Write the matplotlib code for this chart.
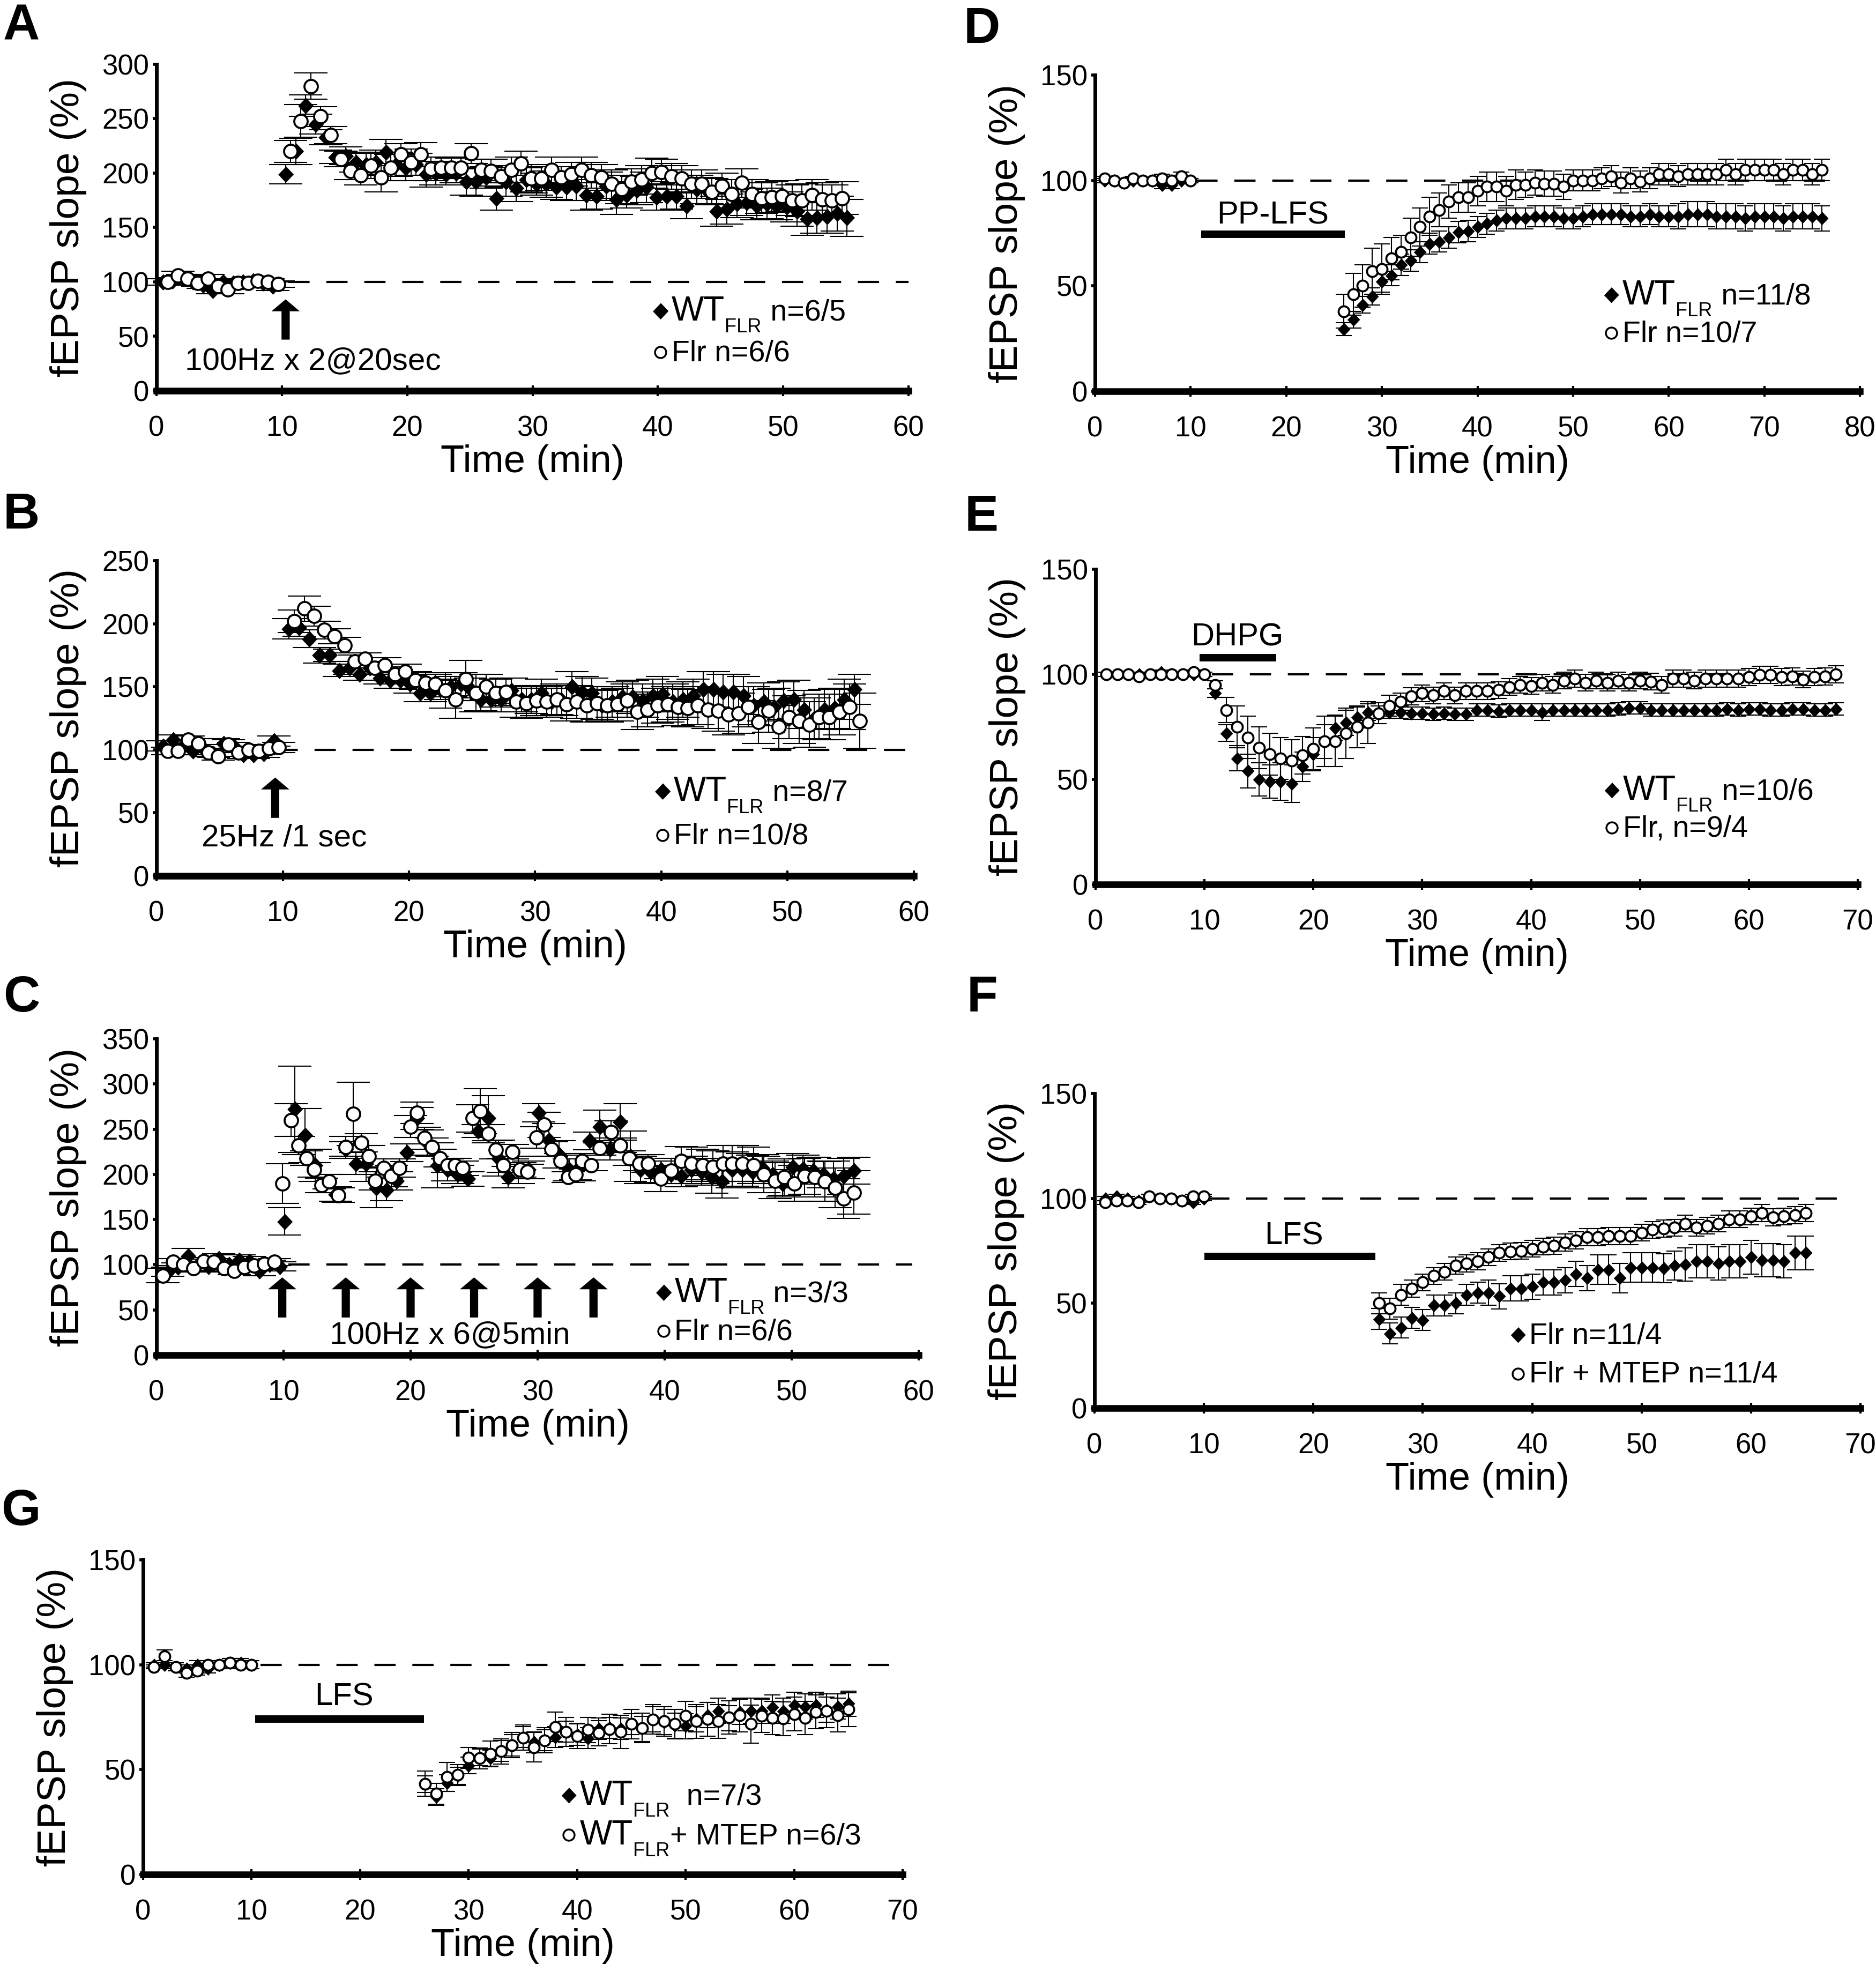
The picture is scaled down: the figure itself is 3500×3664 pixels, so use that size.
import matplotlib
matplotlib.use('Agg')
import matplotlib.pyplot as plt

plt.rcParams['font.family'] = ['Liberation Sans', 'DejaVu Sans']

# ------------------------------------------------------------------ DATA
# Panel A (LTP, 100Hz x 2)
A_wt_t = [0.5, 1.3, 2.1, 2.9, 3.7, 4.5, 5.3, 6.1, 6.9, 7.7, 8.5, 9.3,
          10.3, 11.1, 11.9, 12.7, 13.5, 14.3, 15.1, 15.9, 16.7, 17.5, 18.3, 19.1, 19.9, 20.7, 21.5, 22.3,
          23.1, 23.9, 24.7, 25.5, 26.3, 27.1, 27.9, 28.7, 29.5, 30.3, 31.1, 31.9, 32.7, 33.5, 34.3, 35.1,
          35.9, 36.7, 37.5, 38.3, 39.1, 39.9, 40.7, 41.5, 42.3, 43.1, 43.9, 44.7, 45.5, 46.3, 47.1, 47.9,
          48.7, 49.5, 50.3, 51.1, 51.9, 52.7, 53.5, 54.3, 55.1]
A_wt_y = [100, 101, 103, 100, 97, 92, 100, 99, 100, 101, 99, 96,
          199, 220, 262, 245, 233, 215, 216, 210, 208, 210, 219, 208, 205, 208, 199, 200, 199, 200, 192, 192,
          196, 177, 192, 186, 194, 190, 190, 187, 187, 188, 180, 179, 188, 176, 180, 184, 187, 178, 179, 179,
          170, 185, 184, 165, 167, 172, 173, 170, 172, 170, 169, 165, 158, 159, 160, 163, 159]
A_wt_e = [3, 3, 4, 3, 3, 3, 3, 2, 2, 2, 3, 4,
          9, 12, 10, 9, 7, 6, 8, 9, 10, 11, 12, 11, 12, 10, 12, 11, 10, 9, 12, 13, 10, 11, 13, 12, 11, 10,
          12, 11, 12, 13, 14, 12, 13, 14, 12, 13, 14, 12, 13, 12, 12, 13, 12, 14, 14, 13, 12, 13, 14, 13,
          14, 14, 15, 14, 15, 16, 17]
A_flr_t = [0.9, 1.7, 2.5, 3.3, 4.1, 4.9, 5.7, 6.5, 7.3, 8.1, 8.9, 9.7,
           10.7, 11.5, 12.3, 13.1, 13.9, 14.7, 15.5, 16.3, 17.1, 17.9, 18.7, 19.5, 20.3, 21.1, 21.9, 22.7,
           23.5, 24.3, 25.1, 25.9, 26.7, 27.5, 28.3, 29.1, 29.9, 30.7, 31.5, 32.3, 33.1, 33.9, 34.7, 35.5,
           36.3, 37.1, 37.9, 38.7, 39.5, 40.3, 41.1, 41.9, 42.7, 43.5, 44.3, 45.1, 45.9, 46.7, 47.5, 48.3,
           49.1, 49.9, 50.7, 51.5, 52.3, 53.1, 53.9, 54.7]
A_flr_y = [100, 106, 103, 99, 103, 96, 93, 99, 99, 101, 100, 98,
           220, 248, 280, 252, 235, 213, 202, 198, 207, 196, 205, 217, 210, 217, 204, 205, 205, 205, 218,
           203, 202, 197, 203, 209, 195, 195, 203, 196, 199, 203, 198, 196, 190, 185, 192, 194, 200, 201,
           197, 195, 190, 190, 183, 188, 181, 191, 181, 177, 178, 179, 175, 175, 180, 176, 175, 177]
A_flr_e = [3, 4, 3, 3, 4, 3, 4, 3, 2, 2, 3, 3,
           10, 15, 12, 9, 8, 7, 8, 9, 12, 13, 12, 10, 12, 11, 11, 10, 9, 10, 9, 10, 11, 10, 12, 11, 13, 11,
           12, 10, 11, 12, 12, 12, 13, 13, 12, 13, 14, 12, 12, 12, 13, 13, 12, 12, 13, 13, 13, 14, 14, 14,
           14, 15, 14, 15, 14, 15]

# Panel B (25Hz / 1 sec)
B_wt_t = [0.5, 1.3, 2.1, 2.9, 3.7, 4.5, 5.3, 6.1, 6.9, 7.7, 8.5, 9.3,
          10.5, 11.3, 12.1, 12.9, 13.7, 14.5, 15.3, 16.1, 16.9, 17.7, 18.5, 19.3, 20.1, 20.9, 21.7, 22.5,
          23.3, 24.1, 24.9, 25.7, 26.5, 27.3, 28.1, 28.9, 29.7, 30.5, 31.3, 32.1, 32.9, 33.7, 34.5, 35.3,
          36.1, 36.9, 37.7, 38.5, 39.3, 40.1, 40.9, 41.7, 42.5, 43.3, 44.1, 44.9, 45.7, 46.5, 47.3, 48.1,
          48.9, 49.7, 50.5, 51.3, 52.1, 52.9, 53.7, 54.5, 55.3]
B_wt_y = [103, 108, 103, 99, 101, 97, 105, 103, 96, 96, 97, 107,
          196, 197, 188, 175, 175, 163, 165, 160, 165, 157, 155, 155, 152, 145, 145, 148, 150, 152, 148,
          140, 140, 140, 147, 140, 140, 145, 138, 139, 150, 146, 145, 135, 138, 142, 142, 139, 143, 144,
          138, 140, 143, 148, 148, 146, 146, 143, 135, 138, 134, 139, 140, 132, 125, 132, 133, 140, 148]
B_wt_e = [4, 4, 4, 3, 3, 3, 4, 3, 3, 3, 3, 4,
          8, 7, 7, 6, 5, 5, 5, 5, 5, 5, 6, 6, 7, 7, 7, 8, 8, 9, 9, 9, 10, 10, 10, 10, 11, 11, 11, 12, 12,
          12, 12, 12, 12, 12, 13, 13, 13, 14, 14, 14, 13, 14, 14, 14, 14, 15, 15, 15, 15, 15, 15, 15, 16,
          16, 16, 16, 12]
B_flr_t = [0.9, 1.7, 2.5, 3.3, 4.1, 4.9, 5.7, 6.5, 7.3, 8.1, 8.9, 9.7,
           10.9, 11.7, 12.5, 13.3, 14.1, 14.9, 15.7, 16.5, 17.3, 18.1, 18.9, 19.7, 20.5, 21.3, 22.1, 22.9,
           23.7, 24.5, 25.3, 26.1, 26.9, 27.7, 28.5, 29.3, 30.1, 30.9, 31.7, 32.5, 33.3, 34.1, 34.9, 35.7,
           36.5, 37.3, 38.1, 38.9, 39.7, 40.5, 41.3, 42.1, 42.9, 43.7, 44.5, 45.3, 46.1, 46.9, 47.7, 48.5,
           49.3, 50.1, 50.9, 51.7, 52.5, 53.3, 54.1, 54.9, 55.7]
B_flr_y = [99, 99, 108, 105, 98, 95, 104, 98, 100, 99, 101, 102,
           202, 212, 206, 195, 190, 183, 170, 172, 165, 167, 160, 162, 155, 153, 152, 147, 140, 156, 145,
           150, 145, 146, 138, 137, 139, 138, 140, 136, 138, 135, 137, 135, 136, 139, 130, 132, 135, 136,
           134, 133, 135, 132, 131, 128, 129, 134, 122, 131, 118, 126, 123, 120, 126, 126, 130, 134, 123]
B_flr_e = [3, 3, 3, 4, 3, 3, 4, 3, 3, 3, 3, 4,
           9, 10, 8, 7, 6, 6, 5, 5, 5, 6, 6, 6, 7, 8, 8, 14, 15, 15, 15, 10, 11, 11, 12, 12, 12, 12, 12,
           13, 13, 13, 13, 13, 13, 13, 14, 14, 14, 14, 15, 15, 15, 15, 16, 16, 16, 16, 17, 17, 17, 17, 18,
           18, 18, 18, 18, 18, 22]

# Panel C (100Hz x 6 @ 5 min)
C_wt_t = [0.9, 1.7, 2.5, 3.3, 4.1, 4.9, 5.7, 6.5, 7.3, 8.1, 8.9, 9.7,
          10.1, 10.9, 11.7, 12.5, 13.3, 14.1, 14.9, 15.7, 16.5, 17.3, 18.1, 18.9, 19.7, 20.5, 21.3, 22.1,
          22.9, 23.7, 24.5, 25.3, 26.1, 26.9, 27.7, 28.5, 29.3, 30.1, 30.9, 31.7, 32.5, 33.3, 34.1, 34.9,
          35.7, 36.5, 37.3, 38.1, 38.9, 39.7, 40.5, 41.3, 42.1, 42.9, 43.7, 44.5, 45.3, 46.1, 46.9, 47.7,
          48.5, 49.3, 50.1, 50.9, 51.7, 52.5, 53.3, 54.1, 54.9]
C_wt_y = [92, 97, 110, 100, 98, 107, 100, 105, 104, 93, 100, 98,
          148, 272, 243, 210, 190, 178, 228, 212, 212, 185, 183, 193, 224, 262, 235, 210, 205, 200, 195,
          248, 262, 218, 197, 205, 205, 268, 238, 222, 205, 208, 237, 253, 228, 258, 220, 205, 203, 205,
          200, 198, 205, 203, 197, 192, 205, 205, 203, 207, 200, 190, 208, 206, 204, 200, 195, 198, 204]
C_wt_e = [5, 5, 8, 6, 5, 5, 5, 6, 5, 5, 5, 5,
          15, 48, 30, 18, 10, 8, 8, 12, 20, 22, 12, 10, 10, 12, 14, 25, 12, 10, 8, 7, 25, 20, 12, 15, 10,
          10, 18, 15, 12, 15, 10, 18, 12, 20, 28, 15, 12, 10, 10, 12, 15, 15, 18, 18, 20, 18, 18, 15, 15,
          15, 15, 15, 15, 15, 20, 20, 15]
C_flr_t = [0.5, 1.3, 2.1, 2.9, 3.7, 4.5, 5.3, 6.1, 6.9, 7.7, 8.5, 9.3,
           9.9, 10.6, 11.2, 11.8, 12.4, 13.0, 13.6, 14.3, 14.9, 15.5, 16.1, 16.7, 17.2, 17.9, 18.5, 19.1,
           20.0, 20.5, 21.1, 21.7, 22.3, 22.9, 23.5, 24.1, 24.9, 25.5, 26.1, 26.7, 27.3, 28.0, 28.6, 29.2,
           29.9, 30.5, 31.1, 31.8, 32.4, 33.0, 33.5, 34.2, 34.9, 35.8, 36.5, 37.2, 38.0, 38.7, 39.7, 40.5,
           41.3, 42.1, 43.0, 43.8, 44.6, 45.3, 46.1, 47.0, 47.8, 48.7, 49.4, 50.2, 51.0, 51.8, 52.6, 53.4,
           54.1, 54.9]
C_flr_y = [88, 103, 100, 96, 104, 103, 96, 93, 97, 99, 101, 103,
           190, 260, 232, 218, 205, 188, 192, 177, 230, 267, 235, 220, 193, 207, 198, 207, 253, 268, 240,
           230, 218, 210, 210, 207, 262, 270, 245, 227, 210, 225, 205, 203, 241, 255, 228, 215, 197, 200,
           215, 210, 229, 247, 232, 218, 212, 212, 195, 204, 215, 212, 210, 208, 212, 212, 212, 210, 200,
           193, 197, 190, 198, 197, 192, 185, 173, 180]
C_flr_e = [8, 4, 4, 4, 4, 4, 4, 4, 4, 4, 3, 4,
           22, 18, 10, 8, 8, 8, 8, 8, 12, 35, 10, 12, 10, 10, 12, 10, 12, 12, 12, 10, 10, 8, 8, 8, 15, 25,
           10, 10, 8, 8, 8, 8, 12, 14, 8, 8, 6, 6, 6, 6, 8, 12, 8, 8, 8, 10, 14, 14, 16, 18, 18, 18, 20,
           20, 20, 20, 20, 20, 20, 20, 20, 22, 22, 22, 22, 24]

# Panel D (PP-LFS)
D_t = [1, 2, 3, 4, 5, 6, 7, 8, 9, 10,
       26, 27, 28, 29, 30, 31, 32, 33, 34, 35, 36, 37, 38, 39, 40, 41, 42, 43, 44, 45, 46, 47, 48, 49, 50,
       51, 52, 53, 54, 55, 56, 57, 58, 59, 60, 61, 62, 63, 64, 65, 66, 67, 68, 69, 70, 71, 72, 73, 74, 75,
       76]
D_wt_y = [100, 100, 99, 100, 100, 100, 98, 98, 100, 100,
          29.5, 34, 41, 45, 52, 55, 60, 62, 66, 70, 71, 73, 75.5, 76, 78, 79.5, 81, 82, 82, 82, 83, 83, 83,
          82, 82, 83, 84, 84, 84, 84, 83, 83, 84, 83, 83, 83, 84, 84, 84, 83, 83, 83, 82, 83, 83, 83, 82,
          83, 83, 83, 82]
D_wt_e = [1, 1, 1, 1, 1, 1, 2, 2, 1, 1,
          3, 4, 4, 4, 5, 5, 5, 5, 5, 5, 5, 5, 5, 5, 5, 5, 5, 5, 5, 5, 5, 5, 5, 5, 5, 5, 5, 5, 5, 5, 5, 5,
          5, 5, 5, 6, 6, 6, 6, 6, 6, 6, 6, 6, 6, 6, 6, 6, 6, 6, 6]
D_flr_y = [101, 100, 99, 101, 100, 100, 101, 100, 102, 100,
           38, 46, 50, 57, 58, 63, 66, 73, 78, 83, 86, 90, 92, 92, 95, 97, 97, 95, 98, 98, 99, 98.5, 98.5,
           97, 100, 100, 100, 101, 102, 99, 101, 99.5, 101, 103, 103, 102, 103, 103, 103, 103, 105, 103,
           105, 105, 105, 105, 103, 105, 105, 103, 105]
D_flr_e = [1, 1, 1, 1, 1, 1, 2, 1, 2, 1,
           8, 10, 10, 11, 12, 10, 8, 9, 9, 9, 8, 8, 7, 7, 7, 7, 7, 7, 7, 6, 6, 6, 6, 6, 5, 5, 5, 5, 5, 5,
           5, 5, 5, 5, 5, 5, 5, 5, 5, 5, 5, 5, 5, 5, 5, 5, 5, 5, 5, 5, 5]

# Panel E (DHPG)
E_t = [1, 2, 3, 4, 5, 6, 7, 8, 9, 10,
       11, 12, 13, 14, 15, 16, 17, 18, 19, 20, 21, 22, 23, 24, 25, 26, 27, 28, 29, 30, 31, 32, 33, 34, 35,
       36, 37, 38, 39, 40, 41, 42, 43, 44, 45, 46, 47, 48, 49, 50, 51, 52, 53, 54, 55, 56, 57, 58, 59, 60,
       61, 62, 63, 64, 65, 66, 67, 68]
E_wt_y = [100, 100, 100, 100, 100, 101, 100, 100, 100, 100,
          91, 72, 60, 54, 50, 49, 49, 48, 56, 62, 68, 74.5, 77, 79.5, 82, 82, 82, 82, 81.5, 81.5, 81, 81.5,
          81, 81, 83, 83, 82.5, 83, 83, 83, 82, 83, 83, 83, 83, 83, 83, 83.5, 84, 84, 83, 83, 83, 83, 83,
          83, 83, 83.5, 83, 83.5, 83.5, 83, 83, 83.5, 83.5, 83, 83, 83.5]
E_wt_e = [1, 1, 1, 1, 1, 1, 1, 1, 1, 1,
          2, 4, 6, 8, 8, 8, 9, 9, 7, 8, 8, 6, 6, 5, 4, 3, 3, 3, 3, 3, 3, 3, 3, 3, 3, 3, 3, 3, 3, 3, 4, 3,
          3, 3, 3, 3, 3, 3, 3, 3, 3, 3, 3, 3, 3, 3, 3, 3, 3, 3, 3, 3, 3, 3, 3, 3, 3, 3]
E_flr_y = [100, 100, 100, 99, 100, 100, 100, 100, 101, 100,
           95, 83, 75, 70, 65, 62, 60, 59, 61.5, 64.5, 68, 68, 72, 75, 77, 81.5, 85, 87, 89.5, 91, 90, 92,
           90, 92, 92, 92, 92.5, 94, 95, 94.5, 96, 95, 97, 98, 96, 97, 96, 97, 96, 97, 96.5, 95, 98, 98,
           97, 98, 98, 98, 98, 98.7, 99.7, 99.7, 98.7, 99, 97.5, 98.7, 99, 100]
E_flr_e = [1, 1, 1, 1, 1, 1, 1, 1, 1, 1,
           2, 6, 10, 10, 10, 10, 10, 10, 9, 10, 12, 12, 12, 10, 10, 5, 5, 4, 4, 4, 4, 4, 4, 4, 4, 4, 4, 4,
           4, 4, 4, 4, 4, 4, 4, 4, 4, 4, 4, 4, 4, 4, 4, 4, 4, 4, 4, 4, 4, 4, 4, 4, 4, 4, 4, 4, 4, 4]

# Panel F (LFS, Flr vs Flr + MTEP)
F_t = [1, 2, 3, 4, 5, 6, 7, 8, 9, 10,
       26, 27, 28, 29, 30, 31, 32, 33, 34, 35, 36, 37, 38, 39, 40, 41, 42, 43, 44, 45, 46, 47, 48, 49, 50,
       51, 52, 53, 54, 55, 56, 57, 58, 59, 60, 61, 62, 63, 64, 65]
F_flr_y = [100, 101, 100, 99, 101, 100, 100, 99, 98, 100,
           42.5, 35.6, 38.4, 43, 42, 49, 49, 50, 54, 55, 55, 53.4, 57, 57, 58, 60, 60, 61, 64, 62, 66, 66,
           62, 67, 67, 67, 66.7, 68, 68.5, 70, 70, 69, 70, 70, 72, 70.5, 70.5, 70, 74, 74]
F_flr_e = [1, 1, 1, 1, 1, 1, 1, 1, 1, 1,
           5, 5, 5, 5, 5, 5, 5, 5, 5, 5, 6, 6, 6, 6, 6, 6, 6, 6, 6, 6, 7, 7, 7, 7, 7, 7, 7, 7, 8, 8, 8, 8,
           8, 8, 8, 8, 8, 8, 8, 8]
F_mtep_y = [98, 99, 99, 98, 101, 100, 100, 99, 101, 101,
            50, 47.5, 54, 57, 60, 63, 65, 68, 69, 70, 72, 74, 74.7, 75, 76, 77, 77.4, 79, 80, 81.5, 81.5,
            82, 82, 82, 83.6, 85, 85.6, 86, 88, 86, 87, 88, 90, 90, 91.4, 93, 91, 91.4, 92, 93]
F_mtep_e = [1, 1, 1, 1, 1, 1, 1, 1, 1, 1,
            5, 5, 5, 4, 4, 4, 4, 4, 4, 4, 4, 4, 4, 4, 4, 4, 4, 4, 4, 4, 4, 4, 4, 4, 4, 4, 4, 4, 4, 4, 4,
            4, 4, 4, 4, 4, 4, 4, 4, 4]

# Panel G (LFS, WT vs WT + MTEP)
G_t = [1, 2, 3, 4, 5, 6, 7, 8, 9, 10,
       26, 27, 28, 29, 30, 31, 32, 33, 34, 35, 36, 37, 38, 39, 40, 41, 42, 43, 44, 45, 46, 47, 48, 49, 50,
       51, 52, 53, 54, 55, 56, 57, 58, 59, 60, 61, 62, 63, 64, 65]
G_wt_y = [100, 100, 99, 98, 100, 98, 100, 101, 101, 100,
          43, 37, 43.6, 47, 52, 55.8, 55.4, 59, 61.6, 65.5, 63, 64, 65.5, 68, 66.7, 65, 69.5, 70, 69.5,
          71.7, 69.5, 73.9, 72.7, 71, 70.7, 74, 76, 78, 74.6, 77.5, 78, 78, 79.7, 78, 80.8, 80, 80.8, 78.5,
          80, 81.4]
G_wt_e = [1, 2, 2, 2, 2, 2, 2, 2, 2, 2,
          4, 4, 4, 4, 4, 4, 4, 5, 5, 5, 5, 5, 5, 5, 5, 5, 5, 5, 5, 5, 6, 6, 6, 6, 6, 6, 6, 6, 6, 6, 6, 6,
          6, 6, 6, 6, 6, 6, 6, 6]
G_mtep_y = [99, 104, 99, 96, 97, 100, 100, 101, 100, 100,
            43.3, 38.5, 46.5, 47.5, 55.6, 55.4, 57.6, 58.7, 61.6, 65.2, 60.6, 64, 70.3, 68, 66, 68.9, 67.4,
            69.3, 68, 71.7, 69.8, 73.9, 73, 71.7, 75.6, 73, 74, 73, 74.9, 76, 71.7, 75.6, 74.6, 74.3, 76.5,
            74.6, 77.5, 78, 76, 78.6]
G_mtep_e = [1, 3, 2, 2, 2, 2, 2, 2, 2, 2,
            6, 5, 7, 5, 5, 5, 6, 6, 6, 6, 7, 6, 7, 7, 6, 6, 6, 7, 8, 7, 7, 7, 7, 7, 7, 8, 8, 8, 8, 8, 9, 8,
            8, 8, 8, 8, 8, 8, 8, 8]

# Labels (legend entries as segments: main text, subscript, rest)
PANEL_LETTERS = ['A', 'B', 'C', 'D', 'E', 'F', 'G']
YLABEL = 'fEPSP slope (%)'
XLABEL = 'Time (min)'
A_legend = [('WT', 'FLR', ' n=6/5'), ('Flr n=6/6', '', '')]
B_legend = [('WT', 'FLR', ' n=8/7'), ('Flr n=10/8', '', '')]
C_legend = [('WT', 'FLR', ' n=3/3'), ('Flr n=6/6', '', '')]
D_legend = [('WT', 'FLR', ' n=11/8'), ('Flr n=10/7', '', '')]
E_legend = [('WT', 'FLR', ' n=10/6'), ('Flr, n=9/4', '', '')]
F_legend = [('Flr n=11/4', '', ''), ('Flr + MTEP n=11/4', '', '')]
G_legend = [('WT', 'FLR', '  n=7/3'), ('WT', 'FLR', '+ MTEP n=6/3')]
A_note = '100Hz x 2@20sec'
B_note = '25Hz /1 sec'
C_note = '100Hz x 6@5min'
D_bar_label = 'PP-LFS'
E_bar_label = 'DHPG'
F_bar_label = 'LFS'
G_bar_label = 'LFS'
C_stim_times = [9.9, 14.9, 20.0, 25.0, 30.0, 34.4]

# ------------------------------------------------------------------ FIGURE
W, H = 3500, 3664
fig = plt.figure(figsize=(W / 100, H / 100), dpi=100)
fig.patch.set_facecolor('white')
renderer = fig.canvas.get_renderer()

DIAM = [(0, 1), (0.95, 0), (0, -1), (-0.95, 0)]
TICK_FS = 38
TEXT_FS = 42
LABEL_FS = 52


def make_axes(l, r, t, b, xmax, ymax, ystep):
    ax = fig.add_axes([l / W, 1 - b / H, (r - l) / W, (b - t) / H])
    ax.set_xlim(0, xmax)
    ax.set_ylim(0, ymax)
    ax.patch.set_visible(False)
    for s in ['top', 'right']:
        ax.spines[s].set_visible(False)
    ax.spines['left'].set_linewidth(5)
    ax.spines['bottom'].set_linewidth(9)
    ax.set_xticks(list(range(0, xmax + 1, 10)))
    ax.set_yticks(list(range(0, ymax + 1, ystep)))
    ax.tick_params(axis='x', direction='inout', length=14, width=3, pad=26, labelsize=TICK_FS)
    ax.tick_params(axis='y', direction='out', length=5, width=4, pad=5, labelsize=TICK_FS)
    ax.set_ylabel(YLABEL, fontsize=54)
    ax.yaxis.set_label_coords(-130 / (r - l), 0.5)
    ax.set_xlabel(XLABEL, fontsize=LABEL_FS)
    ax.xaxis.set_label_coords(0.5, -100 / (b - t))
    return ax


def draw_series(ax, t, y, e, filled, ms_d, ms_o, cap, z):
    ax.errorbar(t, y, yerr=e, fmt='none', ecolor='k', elinewidth=1.5, capsize=cap,
                capthick=1.5, zorder=z, clip_on=False)
    if filled:
        ax.plot(t, y, linestyle='none', marker=DIAM, ms=ms_d, mfc='k', mec='k', mew=0.8,
                zorder=z + 0.5, clip_on=False)
    else:
        ax.plot(t, y, linestyle='none', marker='o', ms=ms_o, mfc='white', mec='k', mew=2.7,
                zorder=z + 0.5, clip_on=False)


def baseline(ax, x0, x1):
    ax.plot([x0, x1], [100, 100], color='k', lw=3, linestyle=(0, (9.5, 7.5)), zorder=1)


def label_line(ax, x, y, parts):
    main, sub, rest = parts
    big = 46 if sub else 40
    segs = [(main, big, 0)]
    if sub:
        segs.append((sub, 26, -16))
    if rest:
        segs.append((rest, 40, 0))
    xoff = 15
    base = -13 if sub else -12
    for txt, fs, dy in segs:
        t = ax.annotate(txt, xy=(x, y), xytext=(xoff, base + dy), textcoords='offset points',
                        ha='left', va='baseline', fontsize=fs)
        xoff += t.get_window_extent(renderer).width * 72 / 100 + (1 if dy else 0)


def legend(ax, x, y1, y2, labels, ms_d, ms_o):
    ax.plot([x], [y1], linestyle='none', marker=DIAM, ms=ms_d, mfc='k', mec='k', zorder=6)
    ax.plot([x], [y2], linestyle='none', marker='o', ms=ms_o, mfc='white', mec='k', mew=2.5, zorder=6)
    label_line(ax, x, y1, labels[0])
    label_line(ax, x, y2, labels[1])


def arrow(ax, x, y0, y1):
    ax.annotate('', xy=(x, y1), xytext=(x, y0),
                arrowprops=dict(arrowstyle='simple,head_length=16,head_width=38,tail_width=11',
                                mutation_scale=1, fc='k', ec='none', lw=0, shrinkA=0, shrinkB=0))


def bar(ax, x0, x1, y, label, ly, lx):
    ax.plot([x0, x1], [y, y], color='k', lw=10, solid_capstyle='butt', zorder=3)
    ax.text(lx, ly, label, ha='center', va='center', fontsize=43)


# ---- A
ax = make_axes(292, 1695, 120, 729, 60, 300, 50)
baseline(ax, 10.5, 60)
draw_series(ax, A_wt_t, A_wt_y, A_wt_e, True, 21, 18, 22, 4)
draw_series(ax, A_flr_t, A_flr_y, A_flr_e, False, 21, 18, 22, 5)
arrow(ax, 10.3, 47, 84)
ax.text(12.5, 27, A_note, ha='center', va='center', fontsize=TEXT_FS)
legend(ax, 40.2, 73.4, 35.5, A_legend, 21, 15)

# ---- B
ax = make_axes(292, 1705, 1046, 1634, 60, 250, 50)
baseline(ax, 9.5, 60)
draw_series(ax, B_wt_t, B_wt_y, B_wt_e, True, 21, 18, 22, 4)
draw_series(ax, B_flr_t, B_flr_y, B_flr_e, False, 21, 18, 22, 5)
arrow(ax, 9.4, 46, 78)
ax.text(10.1, 30, B_note, ha='center', va='center', fontsize=TEXT_FS)
legend(ax, 40.1, 67, 32.3, B_legend, 21, 15)

# ---- C
ax = make_axes(292, 1714, 1938, 2528, 60, 350, 50)
baseline(ax, 10.4, 59.5)
draw_series(ax, C_wt_t, C_wt_y, C_wt_e, True, 21, 18, 22, 4)
draw_series(ax, C_flr_t, C_flr_y, C_flr_e, False, 21, 18, 22, 5)
for st in C_stim_times:
    arrow(ax, st, 41.6, 86)
ax.text(23.1, 22, C_note, ha='center', va='center', fontsize=TEXT_FS)
legend(ax, 39.9, 69.4, 26.7, C_legend, 21, 15)

# ---- D
ax = make_axes(2043, 3470, 140, 730, 80, 150, 50)
baseline(ax, 10.6, 76.7)
draw_series(ax, D_t, D_wt_y, D_wt_e, True, 17, 14.5, 11, 4)
draw_series(ax, D_t, D_flr_y, D_flr_e, False, 17, 14.5, 11, 5)
bar(ax, 11.1, 26.1, 74.5, D_bar_label, 83.5, 18.6)
legend(ax, 54, 45.8, 27.7, D_legend, 20, 15)

# ---- E
ax = make_axes(2044, 3466, 1062, 1650, 70, 150, 50)
baseline(ax, 10.7, 69.5)
draw_series(ax, E_t, E_wt_y, E_wt_e, True, 17, 14.5, 11, 4)
draw_series(ax, E_t, E_flr_y, E_flr_e, False, 17, 14.5, 11, 5)
bar(ax, 9.55, 16.6, 108, E_bar_label, 117.6, 13.0)
legend(ax, 47.4, 45, 27, E_legend, 20, 15)

# ---- F
ax = make_axes(2042, 3471, 2040, 2627, 70, 150, 50)
baseline(ax, 10.4, 69.2)
draw_series(ax, F_t, F_flr_y, F_flr_e, True, 17, 14.5, 11, 4)
draw_series(ax, F_t, F_mtep_y, F_mtep_e, False, 17, 14.5, 11, 5)
bar(ax, 10.05, 25.65, 72.2, F_bar_label, 82, 18.2)
legend(ax, 38.7, 35, 16.4, F_legend, 20, 15)

# ---- G
ax = make_axes(267, 1684, 2910, 3497, 70, 150, 50)
baseline(ax, 10.8, 70)
draw_series(ax, G_t, G_wt_y, G_wt_e, True, 17, 14.5, 11, 4)
draw_series(ax, G_t, G_mtep_y, G_mtep_e, False, 17, 14.5, 11, 5)
bar(ax, 10.3, 25.9, 74, G_bar_label, 84.7, 18.5)
legend(ax, 39.2, 37.8, 19, G_legend, 20, 15)

# Panel letters
letter_pos = [(40, 50), (40, 961), (40, 1863), (1832, 56), (1831, 966), (1832, 1862), (39, 2820)]
for letter, (px, py) in zip(PANEL_LETTERS, letter_pos):
    fig.text(px / W, 1 - py / H, letter, ha='center', va='center', fontsize=68, fontweight='bold')

fig.savefig('out.png', dpi=100, facecolor='white')
